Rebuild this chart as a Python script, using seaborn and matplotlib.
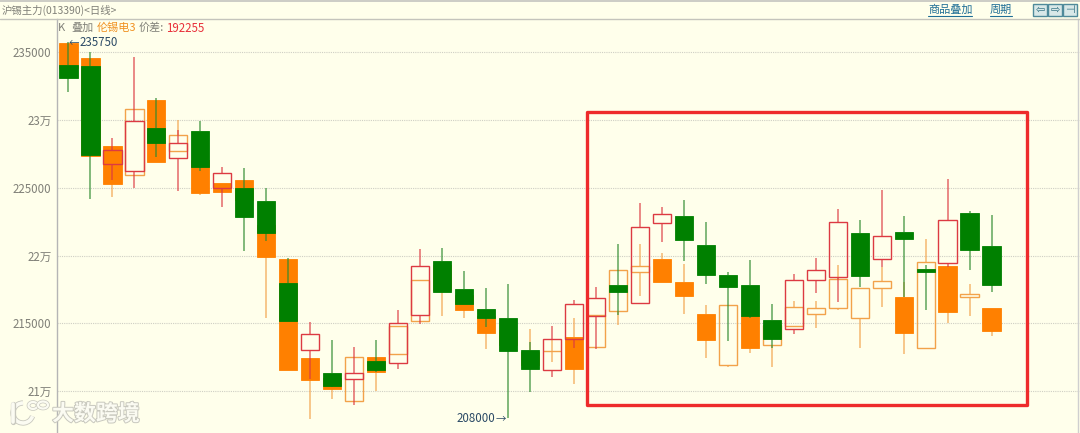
import matplotlib
matplotlib.use('Agg')
import matplotlib.pyplot as plt
import matplotlib.patheffects as pe
from matplotlib.patches import Rectangle, Arc, Ellipse
from matplotlib.lines import Line2D
import numpy as np
import pandas as pd
import seaborn as sns

# main contract (green = down, red hollow = up)
main_open = [234063, 233990, 226740, 226268, 229417, 227227, 229196, 224970, 225014, 224011, 217985,
             213022, 211326, 210928, 212255, 212108, 215604, 219608, 217521, 216046, 215427, 213022,
             211547, 213834, 215530, 217838, 216489, 222433, 222905, 220810, 218598, 217860, 215279,
             214571, 218185, 218450, 221695, 219733, 221769, 219018, 219438, 223170, 220693]
main_close = [233127, 227426, 227772, 229933, 228333, 228289, 226519, 226076, 222831, 221651, 215161,
              214202, 210412, 211371, 211547, 215058, 219240, 217344, 216437, 215382, 212949, 211666,
              213834, 216415, 216902, 217344, 222094, 223052, 221135, 218576, 217691, 215530, 213834,
              218185, 218922, 222507, 218502, 221430, 221253, 218775, 222632, 220397, 217838]
main_high = [235750, 235022, 228680, 234675, 231630, 229270, 229955, 226541, 226467, 225014, 219807,
             215088, 213804, 213266, 213782, 215972, 220471, 220544, 218871, 217595, 217912, 213612,
             214815, 216710, 217669, 220884, 223864, 223591, 224085, 222462, 218774, 219682, 216437,
             218627, 219807, 223443, 222632, 224822, 222905, 219313, 225678, 223274, 223001]
main_low = [232072, 224181, 225582, 224992, 227278, 224793, 226268, 223591, 220368, 221105, 215161,
            210906, 210315, 208988, 211422, 211643, 214984, 217322, 216437, 214763, 208000, 209969,
            211076, 213215, 213096, 215626, 216415, 220987, 219631, 217935, 213687, 215405, 213192,
            214203, 217271, 216607, 217669, 219188, 216976, 215995, 219188, 218967, 217344]

# LME tin overlay (orange filled = down, orange hollow = up)
over_open = [235686, 234602, 228068, 225929, 231482, 227743, 227057, 225339, 225560, 222263, 219756,
             212455, 210979, 209305, 212506, 212772, 215161, 219313, 217101, 215552, 214519, 212897,
             212934, 214003, 213288, 215899, 218775, 219756, 218060, 215700, 211938, 215552, 213435,
             214836, 215678, 216142, 215382, 217617, 216954, 213169, 219262, 216931, 216164]
over_close = [233842, 227352, 225309, 230818, 226910, 228923, 224645, 224719, 224107, 219903, 211547,
              210854, 210168, 212506, 211422, 214792, 218185, 217470, 215995, 214298, 213413, 211938,
              212971, 211621, 215626, 218922, 219262, 218082, 217005, 213782, 216363, 213215, 214888,
              216216, 216142, 218259, 217639, 218111, 214320, 219512, 215870, 217153, 214446]
over_high = [235686, 234602, 228068, 230818, 231482, 230007, 227057, 225339, 225560, 222263, 219756,
             212455, 210979, 212506, 212506, 214792, 218185, 219313, 217101, 215552, 214519, 214571,
             213782, 215382, 215626, 218922, 220884, 220220, 219387, 216363, 216363, 215552, 214888,
             216658, 216658, 219291, 217639, 219188, 218082, 221208, 219262, 217912, 216164]
over_low = [233842, 227352, 224350, 225929, 226910, 227743, 224476, 224719, 224107, 215382, 211547,
            207956, 209453, 209305, 210003, 212772, 215161, 215574, 215382, 213096, 213413, 211938,
            212182, 210537, 213288, 214866, 217049, 218082, 215722, 212476, 211813, 212823, 211813,
            214836, 214645, 215995, 213215, 216238, 212750, 213169, 215036, 215574, 214099]

y_ticks = [235000, 230000, 225000, 220000, 215000, 210000]
y_labels = ['235000', '23万', '225000', '22万', '215000', '21万']

BG = '#FFFFEB'
GREEN = '#008000'
RED = '#DC3A42'
ORANGE = '#FF8000'
ORANGE_LINE = '#F2A24A'
GRAY = '#808078'
NAVY = '#2B4A66'
MARK = '#FBFBF2'
MARK_EDGE = '#C8C8BE'

W, H = 1080, 433
sns.set_theme(style='white')
plt.rcParams['font.family'] = ['Noto Sans CJK SC', 'DejaVu Sans']

fig = plt.figure(figsize=(W / 100, H / 100), dpi=100, facecolor=BG)
ax = fig.add_axes([57 / W, 0, (W - 57) / W, 1 - 19 / H], facecolor=BG)


def fx(px):
    return px / W


def fy(px):
    return 1 - px / H


def candle_frame(opens, closes, highs, lows):
    df = pd.DataFrame({'open': opens, 'close': closes, 'high': highs, 'low': lows})
    df['pos'] = np.arange(len(df))
    df['top'] = df[['open', 'close']].max(axis=1)
    df['bottom'] = df[['open', 'close']].min(axis=1)
    df['body'] = df['top'] - df['bottom']
    df['up'] = df['close'] > df['open']
    return df


def draw_candles(df, up_edge, down_face, wick_up, wick_down, z):
    start = len(ax.patches)
    sns.barplot(data=df, x='pos', y='body', bottom=df['bottom'], native_scale=True, color=down_face,
                width=18.5 / 21.986, errorbar=None, ax=ax, zorder=z + 0.5)
    for bar, up in zip(ax.patches[start:], df['up']):
        if up:
            bar.set_facecolor('none')
            bar.set_edgecolor(up_edge)
            bar.set_linewidth(1.0)
        else:
            bar.set_facecolor(down_face)
            bar.set_edgecolor(down_face)
            bar.set_linewidth(0.6)
    # wicks stop at the body so hollow candles stay empty
    for up, color in [(True, wick_up), (False, wick_down)]:
        part = df[df['up'] == up]
        ax.vlines(part['pos'], part['top'], part['high'], color=color, lw=1.2, alpha=0.7, zorder=z)
        ax.vlines(part['pos'], part['low'], part['bottom'], color=color, lw=1.2, alpha=0.7, zorder=z)


main = candle_frame(main_open, main_close, main_high, main_low)
over = candle_frame(over_open, over_close, over_high, over_low)

draw_candles(over, ORANGE_LINE, ORANGE, ORANGE_LINE, ORANGE_LINE, 2)
draw_candles(main, RED, GREEN, RED, '#2E8B2E', 3)

ax.set_xlim((57 - 68.3) / 21.986, (W - 68.3) / 21.986)
ax.set_ylim(238857 - 73.75 * H, 238857 - 73.75 * 19)
ax.set_xlabel('')
ax.set_ylabel('')
ax.set_xticks([])
ax.set_yticks(y_ticks, labels=y_labels)
ax.tick_params(axis='y', length=0, pad=4, labelsize=8.3, labelcolor=GRAY, left=False)
ax.grid(axis='y', color='#CFCFC4', lw=0.8, ls=(0, (1, 1)), zorder=0)
ax.set_axisbelow(True)
for side in ['top', 'bottom']:
    ax.spines[side].set_visible(False)
ax.spines['left'].set_color('#B5B5B5')
ax.spines['left'].set_linewidth(1)
ax.spines['right'].set_color('#CFCFCF')
ax.spines['right'].set_position(('axes', 1 - 2 / (W - 57)))
ax.spines['right'].set_linewidth(1)

# header strip
fig.add_artist(Rectangle((0, fy(2)), 1, 2 / H, transform=fig.transFigure, color='#CDCDC6', lw=0))
fig.add_artist(Line2D([0, 1], [fy(18.5)] * 2, color='#C4C4BC', lw=1))
fig.text(fx(2), fy(10.5), '沪锡主力(013390)<日线>', color=GRAY, fontsize=7.5, va='center')

# legend row
row_y = fy(28)
fig.text(fx(58), row_y, 'K', color=GRAY, fontsize=8, va='center')
fig.text(fx(71), row_y, '叠加', color=GRAY, fontsize=8, va='center')
fig.text(fx(97), row_y, '伦锡电3', color='#F09020', fontsize=8, va='center')
fig.text(fx(139), row_y, '价差:', color=GRAY, fontsize=8, va='center')
fig.text(fx(166), row_y, '192255', color='#E8303A', fontsize=8.3, va='center')

# high / low markers
fig.text(fx(69), fy(42.5), '←', color=NAVY, fontsize=7.5, va='center')
fig.text(fx(80), fy(42.5), '235750', color=NAVY, fontsize=8.3, va='center')
fig.text(fx(457), fy(418), '208000', color=NAVY, fontsize=8.3, va='center')
fig.text(fx(496), fy(418), '→', color=NAVY, fontsize=7.5, va='center')

# top right links
LINK = '#1F6E96'
for label, left, right in [('商品叠加', 928, 972), ('周期', 990, 1012)]:
    fig.text(fx(left), fy(10), label, color=LINK, fontsize=8, va='center')
    fig.add_artist(Line2D([fx(left), fx(right)], [fy(16)] * 2, color=LINK, lw=0.8))
for left, mark in [(1033, '⇦'), (1048, '⇨'), (1063, '⊣')]:
    fig.add_artist(Rectangle((fx(left), fy(16)), 14 / W, 12 / H, transform=fig.transFigure,
                             facecolor='#D8E8E8', edgecolor='#4F8A9A', lw=1))
    fig.text(fx(left + 7), fy(10), mark, color='#2F6F80', fontsize=8, ha='center', va='center',
             family='DejaVu Sans')

# highlight box
fig.add_artist(Rectangle((fx(587), fy(405)), 440 / W, 293 / H, transform=fig.transFigure,
                         fill=False, edgecolor='#EE2B2B', lw=2.4, joinstyle='round', zorder=10))

# watermark
fig.text(fx(52), fy(414), '大数跨境', color=MARK, fontsize=15.8, va='center', fontweight='bold',
         path_effects=[pe.withStroke(linewidth=1.4, foreground=MARK_EDGE)], zorder=11)
trans = fig.transFigure
for mark in [Ellipse((fx(33), fy(405.5)), 9 / W, 7 / H), Ellipse((fx(43), fy(405)), 10 / W, 7 / H)]:
    mark.set(transform=trans, fill=False, edgecolor=MARK, lw=1.6, zorder=11,
             path_effects=[pe.withStroke(linewidth=2.6, foreground=MARK_EDGE)])
    fig.add_artist(mark)
curve = Arc((fx(23), fy(413)), 20 / W, 20 / H, theta1=90, theta2=320, transform=trans,
            edgecolor=MARK, lw=2.6, zorder=11,
            path_effects=[pe.withStroke(linewidth=3.8, foreground=MARK_EDGE)])
fig.add_artist(curve)
fig.add_artist(Line2D([fx(13), fx(13)], [fy(404), fy(422)], color=MARK, lw=2.6, zorder=11,
                      path_effects=[pe.withStroke(linewidth=3.8, foreground=MARK_EDGE)]))

fig.savefig('out.png', dpi=100, facecolor=BG)
plt.close(fig)
